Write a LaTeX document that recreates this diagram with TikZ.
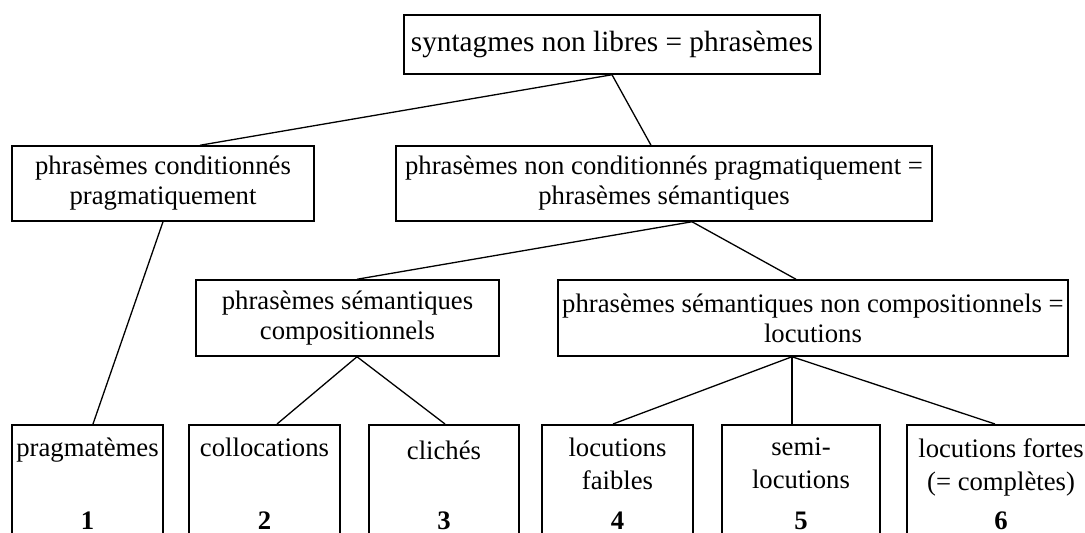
\documentclass[tikz,border=0pt]{standalone}
\usepackage{fontspec}
\setmainfont{Liberation Serif}

\tikzset{
  box/.style = {draw, line width = 1.5pt, inner sep = 0pt, align = center,
    font = \fontsize{26.7}{30}\selectfont},
  leaf/.style = {draw, line width = 1.5pt, inner sep = 0pt, anchor = north,
    minimum height = 200pt},
  leaftext/.style = {inner sep = 0pt, align = center,
    font = \fontsize{26.7}{33}\selectfont},
  link/.style = {line width = 1.3pt}
}

\begin{document}
\begin{tikzpicture}[x = 1pt, y = -1pt]
  % frame of the picture, boxes run out at the bottom and right
  \path[use as bounding box] (0, 0) rectangle (1085, 533);
  \clip (0, 0) rectangle (1085, 533);
  % upper levels
  \node[box, minimum width = 416pt, minimum height = 59pt,
    font = \fontsize{29.3}{32}\selectfont] (top) at (612, 44.5)
    {syntagmes non libres = phrasèmes};
  \node[box, minimum width = 302pt, minimum height = 75pt] (pa) at (163, 183.5)
    {phrasèmes conditionnés\\pragmatiquement};
  \node[box, minimum width = 536pt, minimum height = 75pt] (pb) at (664, 183.5)
    {phrasèmes non conditionnés pragmatiquement =\\phrasèmes sémantiques};
  \node[box, minimum width = 303pt, minimum height = 76pt] (pc) at (347.5, 318)
    {phrasèmes sémantiques\\compositionnels};
  \node[box, minimum width = 510pt, minimum height = 76pt] (pd) at (813, 318)
    {phrasèmes sémantiques non compositionnels =\\locutions};
  % bottom boxes with their numbers
  \foreach \n/\x/\w in {1/87.5/151, 2/264.5/151, 3/444/150,
    4/617.5/151, 5/801/158, 6/1001/188}{
    \node[leaf, minimum width = \w pt] (b\n) at (\x, 424) {};
    \node[leaftext, anchor = base] (n\n) at (b\n |- 0, 529) {\textbf{\n}};
  }
  \node[leaftext, anchor = north] (l1) at (b1 |- 0, 438) {pragmatèmes};
  \node[leaftext, anchor = north] (l2) at (b2 |- 0, 438) {collocations};
  \node[leaftext, anchor = north] (l3) at (b3 |- 0, 441) {clichés};
  \node[leaftext, anchor = north] (l4) at (b4 |- 0, 438) {locutions\\faibles};
  \node[leaftext, anchor = north] (l5) at (b5 |- 0, 438) {semi-\\locutions};
  \node[leaftext, anchor = north] (l6) at (b6 |- 0, 438)
    {locutions fortes\\(= complètes)};
  % tree lines
  \draw[link] (top.south) -- (200, 0 |- pa.north);
  \draw[link] (top.south) -- (651, 0 |- pb.north);
  \draw[link] (pa.south) -- (93, 0 |- b1.north);
  \draw[link] (692, 0 |- pb.south) -- (357, 0 |- pc.north);
  \draw[link] (692, 0 |- pb.south) -- (796, 0 |- pd.north);
  \draw[link] (357, 0 |- pc.south) -- (277, 0 |- b2.north);
  \draw[link] (357, 0 |- pc.south) -- (445, 0 |- b3.north);
  \foreach \n/\x in {4/613, 5/792, 6/995}{
    \draw[link] (792, 0 |- pd.south) -- (\x, 0 |- b\n.north);
  }
\end{tikzpicture}
\end{document}
